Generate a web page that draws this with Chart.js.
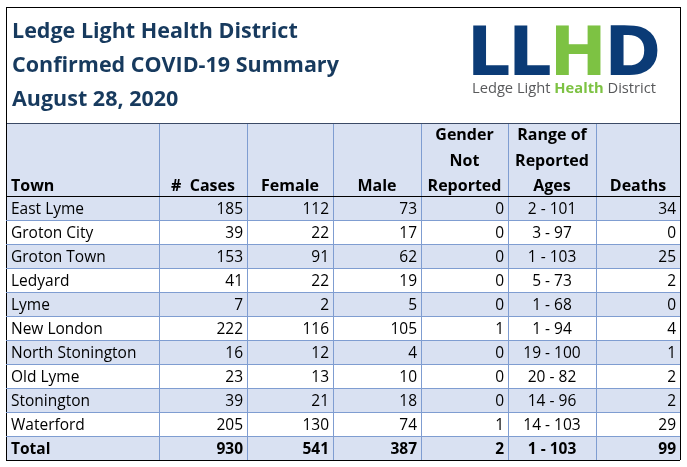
<!DOCTYPE html>
<html>
<head>
<meta charset="utf-8">
<title>LLHD Confirmed COVID-19 Summary</title>
<script src="https://cdn.jsdelivr.net/npm/chart.js@4/dist/chart.umd.min.js"></script>
<style>
    body { margin: 0; background: #fff; }
    #wrap { position: relative; width: 687px; height: 467px; font-family: "Open Sans", sans-serif; }
    #tabela { position: absolute; left: 0; top: 0; }
    #moldura { position: absolute; left: 6px; top: 7px; width: 675px; height: 117px; box-sizing: border-box; border: 1px solid #000; border-bottom: none; }
    #titulo { position: absolute; left: 12px; top: 13px; font-weight: bold; font-size: 21.5px; line-height: 34px; color: #173a5e; white-space: nowrap; }
    #logo { position: absolute; left: 467px; top: 18px; font-family: "DejaVu Sans", sans-serif; font-weight: bold; font-size: 68px; line-height: 68px; letter-spacing: -2px; color: #0b3b76; white-space: nowrap; }
    #logo span { color: #7dc243; }
    #logoTexto { position: absolute; left: 472px; top: 80px; font-size: 14.7px; line-height: 15px; color: #58595b; white-space: nowrap; }
    #logoTexto b { color: #7dc243; }
</style>
</head>
<body>
<div id="wrap">
    <canvas id="tabela" width="687" height="467"></canvas>
    <div id="moldura"></div>
    <div id="titulo">Ledge Light Health District<br>Confirmed COVID-19 Summary<br>August 28, 2020</div>
    <div id="logo">LL<span>H</span>D</div>
    <div id="logoTexto">Ledge Light <b>Health</b> District</div>
</div>
<script>
// Dados da tabela
var towns = ['East Lyme', 'Groton City', 'Groton Town', 'Ledyard', 'Lyme', 'New London',
             'North Stonington', 'Old Lyme', 'Stonington', 'Waterford'];
var cases = [185, 39, 153, 41, 7, 222, 16, 23, 39, 205];
var female = [112, 22, 91, 22, 2, 116, 12, 13, 21, 130];
var male = [73, 17, 62, 19, 5, 105, 4, 10, 18, 74];
var notReported = [0, 0, 0, 0, 0, 1, 0, 0, 0, 1];
var ageRange = ['2 - 101', '3 - 97', '1 - 103', '5 - 73', '1 - 68', '1 - 94',
                '19 - 100', '20 - 82', '14 - 96', '14 - 103'];
var deaths = [34, 0, 25, 2, 0, 4, 1, 2, 2, 29];
var totals = [930, 541, 387, 2, '1 - 103', 99];
var headers = [['Town'], ['#  Cases'], ['Female'], ['Male'],
               ['Gender', 'Not', 'Reported'], ['Range of', 'Reported', 'Ages'], ['Deaths']];

// Layout (px)
var colWidths = [153, 88, 86, 88, 87, 88, 84];
var headerHeight = 73;
var rowHeight = 24;
var azul = '#d9e1f2';
var linha = '#7f9dd1';

var rows = towns.map(function (t, i) {
    return [t, cases[i], female[i], male[i], notReported[i], ageRange[i], deaths[i]];
});
rows.push(['Total'].concat(totals));

var colEdges = [0];
colWidths.forEach(function (w) { colEdges.push(colEdges[colEdges.length - 1] + w); });
var rowEdges = [0, headerHeight];
rows.forEach(function () { rowEdges.push(rowEdges[rowEdges.length - 1] + rowHeight); });

var tabelaPlugin = {
    id: 'tabelaPlugin',
    beforeDraw: function (chart) {
        var ctx = chart.ctx, x = chart.scales.x, y = chart.scales.y;
        ctx.save();
        for (var r = 0; r < rowEdges.length - 1; r++) {
            var top = y.getPixelForValue(rowEdges[r]);
            var bottom = y.getPixelForValue(rowEdges[r + 1]);
            ctx.fillStyle = (r === 0 || r % 2 === 1) ? azul : '#fff';
            ctx.fillRect(x.getPixelForValue(0), top, x.getPixelForValue(colEdges[colEdges.length - 1]) - x.getPixelForValue(0), bottom - top);
        }
        ctx.restore();
    },
    afterDraw: function (chart) {
        var ctx = chart.ctx, x = chart.scales.x, y = chart.scales.y;
        ctx.save();
        ctx.fillStyle = '#000';
        ctx.textBaseline = 'alphabetic';

        // cabecalho
        ctx.font = 'bold 16px "Open Sans"';
        var hBottom = y.getPixelForValue(rowEdges[1]);
        headers.forEach(function (lines, c) {
            var left = x.getPixelForValue(colEdges[c]);
            var right = x.getPixelForValue(colEdges[c + 1]);
            lines.forEach(function (txt, k) {
                var base = hBottom - 5 - (lines.length - 1 - k) * 25.5;
                if (c === 0) {
                    ctx.textAlign = 'left';
                    ctx.fillText(txt, left + 5, base);
                } else {
                    ctx.textAlign = 'center';
                    ctx.fillText(txt, (left + right) / 2, base);
                }
            });
        });

        // linhas
        rows.forEach(function (row, r) {
            ctx.font = (r === rows.length - 1 ? 'bold ' : '') + '15.5px "Open Sans"';
            var base = y.getPixelForValue(rowEdges[r + 2]) - 6.5;
            row.forEach(function (val, c) {
                var left = x.getPixelForValue(colEdges[c]);
                var right = x.getPixelForValue(colEdges[c + 1]);
                if (c === 0) {
                    ctx.textAlign = 'left';
                    ctx.fillText(val, left + 5, base);
                } else if (c === 5) {
                    ctx.textAlign = 'center';
                    ctx.fillText(val, (left + right) / 2, base);
                } else {
                    ctx.textAlign = 'right';
                    ctx.fillText(String(val), right - 4, base);
                }
            });
        });
        ctx.restore();
    }
};

var ctx = document.getElementById('tabela').getContext('2d');
var chart = new Chart(ctx, {
    type: 'scatter',
    data: { datasets: [] },
    plugins: [tabelaPlugin],
    options: {
        responsive: false,
        animation: false,
        events: [],
        layout: { padding: { left: 6, top: 123, right: 7, bottom: 7 } },
        plugins: { legend: { display: false }, tooltip: { enabled: false } },
        scales: {
            x: {
                type: 'linear',
                min: 0,
                max: colEdges[colEdges.length - 1],
                ticks: { display: false },
                border: { display: false },
                grid: {
                    drawTicks: false,
                    lineWidth: 1,
                    color: function (c) {
                        return (c.index === 0 || c.index === colEdges.length - 1) ? '#000' : linha;
                    }
                },
                afterBuildTicks: function (scale) {
                    scale.ticks = colEdges.map(function (v) { return { value: v }; });
                },
                afterFit: function (scale) { scale.height = 0; }
            },
            y: {
                type: 'linear',
                reverse: true,
                min: 0,
                max: rowEdges[rowEdges.length - 1],
                ticks: { display: false },
                border: { display: false },
                grid: {
                    drawTicks: false,
                    lineWidth: 1,
                    color: function (c) {
                        if (c.index === 0) return '#3b4a66';
                        if (c.index === 1 || c.index === rowEdges.length - 1) return '#000';
                        return linha;
                    }
                },
                afterBuildTicks: function (scale) {
                    scale.ticks = rowEdges.map(function (v) { return { value: v }; });
                },
                afterFit: function (scale) { scale.width = 0; }
            }
        }
    }
});
</script>
</body>
</html>
